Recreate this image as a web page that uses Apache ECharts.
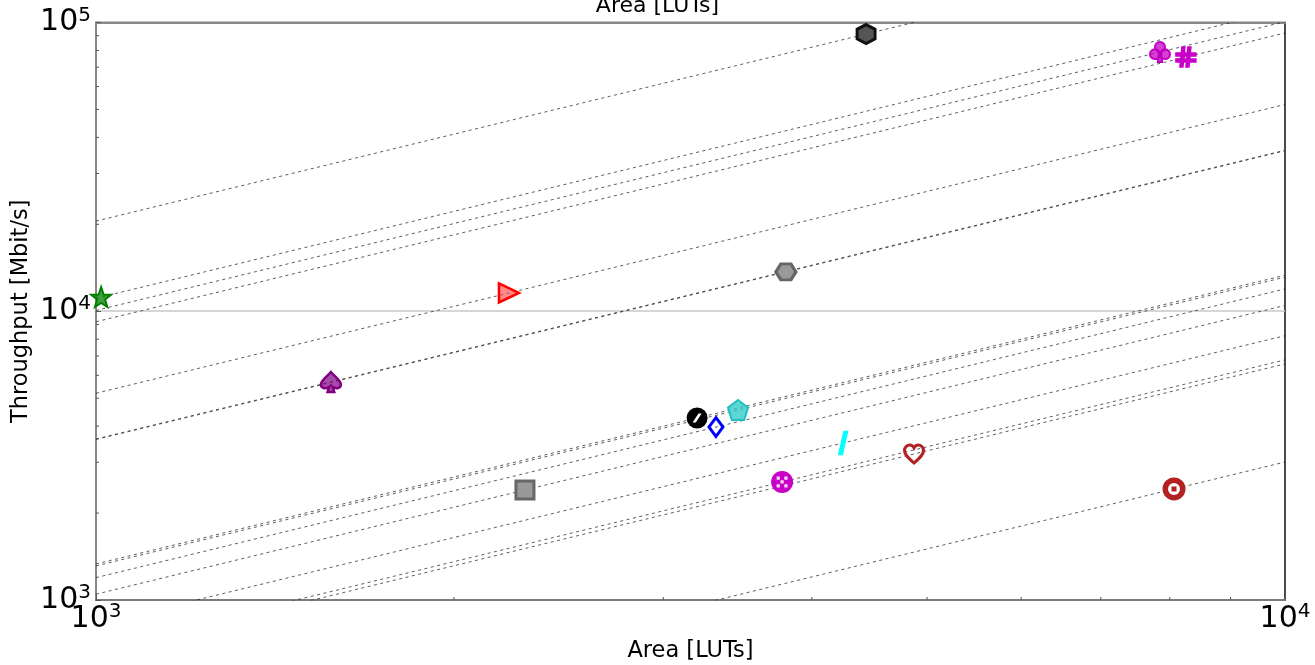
<!DOCTYPE html>
<html>
<head>
<meta charset="utf-8">
<script src="https://cdn.jsdelivr.net/npm/echarts@6/dist/echarts.min.js"></script>
<style>
html,body{margin:0;padding:0;background:#fff;}
#chart{width:1315px;height:665px;}
</style>
</head>
<body>
<div id="chart"></div>
<script>
// ---- data ----
const designs = ['star','triangle','spade','hexBlack','hexGray','club','hash','circleSlash','diamond','pentagon','square','circleDots','slash','heart','target'];
const area = [1010, 2225, 1576, 4443, 3804, 7850, 8254, 3203, 3322, 3467, 2295, 3776, 4250, 4875, 8066];
const throughput = [11200, 11570, 5690, 91200, 13680, 79000, 75900, 4270, 3970, 4550, 2404, 2563, 3498, 3203, 2424];
const xRange = [1000, 10000];
const yRange = [1000, 100000];
const xMinorTicks = [2000, 3000, 4000, 5000, 6000, 7000, 8000, 9000];
const yMinorTicks = [2000, 3000, 4000, 5000, 6000, 7000, 8000, 9000, 20000, 30000, 40000, 50000, 60000, 70000, 80000, 90000];

// ---- marker shapes / styles ----
const P = {
  star: 'path://M0,-10 L2.35,-3.24 L9.51,-3.09 L3.8,1.24 L5.88,8.09 L0,4.4 L-5.88,8.09 L-3.8,1.24 L-9.51,-3.09 L-2.35,-3.24 Z',
  triR: 'path://M0,0 L20,10 L0,20 Z',
  spade: 'path://M10,1 C6,6 1,9 1,13 C1,16.5 5,17.5 8.5,15 L7,20 L13,20 L11.5,15 C15,17.5 19,16.5 19,13 C19,9 14,6 10,1 Z',
  hexV: 'path://M0,-10 L8.66,-5 L8.66,5 L0,10 L-8.66,5 L-8.66,-5 Z',
  hexH: 'path://M-10,0 L-5,-8.66 L5,-8.66 L10,0 L5,8.66 L-5,8.66 Z',
  club: 'path://M10,1 A4.7,4.7 0 1 1 9.99,1 Z M5.3,7.8 A4.7,4.7 0 1 1 5.29,7.8 Z M14.7,7.8 A4.7,4.7 0 1 1 14.69,7.8 Z M9,11 L8,20 L12,20 L11,11 Z',
  hash: 'path://M6,0 L9,0 L7,20 L4,20 Z M12,0 L15,0 L13,20 L10,20 Z M0,6 L20,6 L20,9 L0,9 Z M0,12 L20,12 L20,15 L0,15 Z',
  pent: 'path://M0,-10 L9.51,-3.09 L5.88,8.09 L-5.88,8.09 L-9.51,-3.09 Z',
  heart: 'path://M10,18 C4,13 1,10 1,6.5 C1,3.5 3.5,1.5 6,1.5 C8,1.5 9.3,2.7 10,4 C10.7,2.7 12,1.5 14,1.5 C16.5,1.5 19,3.5 19,6.5 C19,10 16,13 10,18 Z',
  cslash: 'path://M1,20 L5.5,0 L9,0 L4.5,20 Z',
  wslash: 'path://M0,10 L3.5,10 L10,0 L6.5,0 Z',
  dots: 'path://M0,0 L3,0 L3,3 L0,3 Z M7,0 L10,0 L10,3 L7,3 Z M0,7 L3,7 L3,10 L0,10 Z M7,7 L10,7 L10,10 L7,10 Z M3.5,3.5 L6.5,3.5 L6.5,6.5 L3.5,6.5 Z'
};
const markerStyles = [
  {symbol: P.star, size: 20, fill: 'rgba(0,128,0,0.75)', stroke: '#008000', lw: 2},
  {symbol: P.triR, size: [20, 19], fill: 'rgba(255,60,60,0.6)', stroke: '#ff0000', lw: 2.5},
  {symbol: P.spade, size: 20, fill: 'rgba(128,0,128,0.7)', stroke: '#800080', lw: 2.5},
  {symbol: P.hexV, size: [18, 19], fill: '#555555', stroke: '#111111', lw: 3},
  {symbol: P.hexH, size: [20, 16], fill: '#999999', stroke: '#666666', lw: 3},
  {symbol: P.club, size: 20, fill: 'rgba(200,0,200,0.75)', stroke: '#c000c0', lw: 2},
  {symbol: P.hash, size: 20, fill: '#c800c8', stroke: '#c800c8', lw: 1.5},
  {symbol: 'circle', size: 21, fill: '#000000', stroke: '#000000', lw: 0, overlays: [{symbol: P.wslash, size: 9, fill: '#ffffff'}]},
  {symbol: 'diamond', size: [14, 19], fill: 'rgba(255,255,255,0)', stroke: '#0000ff', lw: 3},
  {symbol: P.pent, size: 20, fill: 'rgba(40,200,200,0.75)', stroke: '#20c0c0', lw: 2},
  {symbol: 'rect', size: 18, fill: '#999999', stroke: '#666666', lw: 3},
  {symbol: 'circle', size: 22, fill: '#c800c8', stroke: '#c800c8', lw: 0, overlays: [{symbol: P.dots, size: 11, fill: 'rgba(255,255,255,0.85)'}]},
  {symbol: P.cslash, size: [9, 22], fill: '#00ffff', stroke: '#00ffff', lw: 1.5},
  {symbol: P.heart, size: [19, 18], fill: 'rgba(255,255,255,0)', stroke: '#b22222', lw: 3},
  {symbol: 'circle', size: 23, fill: '#b22222', stroke: '#b22222', lw: 0, overlays: [{symbol: 'circle', size: 12, fill: '#ffffff'}, {symbol: 'rect', size: 5, fill: '#b22222'}]}
];

const FONT = 'DejaVu Sans';
const series = [];

// constant-efficiency guide lines through every design point
designs.forEach((name, i) => {
  const ratio = throughput[i] / area[i];
  series.push({
    type: 'line', name: name + ' ratio', silent: true, z: 2,
    symbol: 'none', clip: true, animation: false,
    lineStyle: {color: '#333333', width: 0.8, type: [3, 3.5]},
    data: [[xRange[0], ratio * xRange[0]], [xRange[1], ratio * xRange[1]]]
  });
});

// design markers
designs.forEach((name, i) => {
  const m = markerStyles[i];
  series.push({
    type: 'scatter', name: name, silent: true, z: 4, animation: false,
    symbol: m.symbol, symbolSize: m.size, symbolKeepAspect: false,
    itemStyle: {color: m.fill, borderColor: m.stroke, borderWidth: m.lw, opacity: 1},
    data: [[area[i], throughput[i]]]
  });
  (m.overlays || []).forEach((o, k) => {
    series.push({
      type: 'scatter', name: name + ' detail' + k, silent: true, z: 5 + k, animation: false,
      symbol: o.symbol, symbolSize: o.size,
      itemStyle: {color: o.fill, borderWidth: 0, opacity: 1},
      data: [[area[i], throughput[i]]]
    });
  });
});

// minor ticks (log positions 2..9) drawn via custom series
series.push({
  type: 'custom', silent: true, z: 6, clip: false, animation: false,
  data: xMinorTicks.map(v => [v, yRange[0]]),
  renderItem: (params, api) => {
    const p = api.coord([api.value(0), api.value(1)]);
    return {type: 'line', shape: {x1: p[0], y1: p[1], x2: p[0], y2: p[1] - 3}, style: {stroke: '#555', lineWidth: 1}};
  }
});
series.push({
  type: 'custom', silent: true, z: 6, clip: false, animation: false,
  data: yMinorTicks.map(v => [xRange[0], v]),
  renderItem: (params, api) => {
    const p = api.coord([api.value(0), api.value(1)]);
    return {type: 'line', shape: {x1: p[0], y1: p[1], x2: p[0] + 3, y2: p[1]}, style: {stroke: '#555', lineWidth: 1}};
  }
});

const richLabel = {
  b: {fontSize: 30, fontFamily: FONT, color: '#000', lineHeight: 34},
  s: {fontSize: 20, fontFamily: FONT, color: '#000', verticalAlign: 'top', lineHeight: 20}
};
const expFormatter = v => '{b|10}{s|' + Math.round(Math.log10(v)) + '}';

const chart = echarts.init(document.getElementById('chart'), null, {renderer: 'canvas'});
chart.setOption({
  animation: false,
  backgroundColor: '#ffffff',
  grid: {left: 96, right: 30, top: 22.5, bottom: 65, show: true, borderColor: '#111', borderWidth: 1.5,
         containLabel: false, outerBoundsMode: 'none'},
  graphic: [{
    type: 'text', left: 'center', top: -5,
    style: {text: 'Area [LUTs]', fontSize: 22, fontFamily: FONT, fill: '#000'}
  }],
  xAxis: [{
    type: 'log', logBase: 10, min: xRange[0], max: xRange[1], position: 'bottom',
    name: 'Area [LUTs]', nameLocation: 'middle', nameGap: 40, nameMoveOverlap: false,
    nameTextStyle: {fontSize: 22.5, fontFamily: FONT, color: '#000'},
    axisLine: {show: true, lineStyle: {color: '#666', width: 1.5}},
    axisTick: {show: true, inside: true, length: 5, lineStyle: {color: '#555'}},
    axisLabel: {formatter: expFormatter, rich: richLabel, margin: 2, showMinLabel: true, showMaxLabel: true},
    splitLine: {show: false}
  }, {
    type: 'log', logBase: 10, min: xRange[0], max: xRange[1], position: 'top',
    axisLine: {show: true, lineStyle: {color: '#888', width: 2}},
    axisTick: {show: false}, axisLabel: {show: false}, splitLine: {show: false}
  }],
  yAxis: [{
    type: 'log', logBase: 10, min: yRange[0], max: yRange[1],
    name: 'Throughput [Mbit/s]', nameLocation: 'middle', nameGap: 63, nameRotate: 90, nameMoveOverlap: false,
    nameTextStyle: {fontSize: 22.5, fontFamily: FONT, color: '#000'},
    axisLine: {show: true, lineStyle: {color: '#888', width: 2}},
    axisTick: {show: true, inside: true, length: 5, lineStyle: {color: '#555'}},
    axisLabel: {formatter: expFormatter, rich: richLabel, margin: 5, showMinLabel: true, showMaxLabel: true},
    splitLine: {show: true, lineStyle: {color: '#c8c8c8', width: 1.5}}
  }],
  series: series
});
</script>
</body>
</html>
